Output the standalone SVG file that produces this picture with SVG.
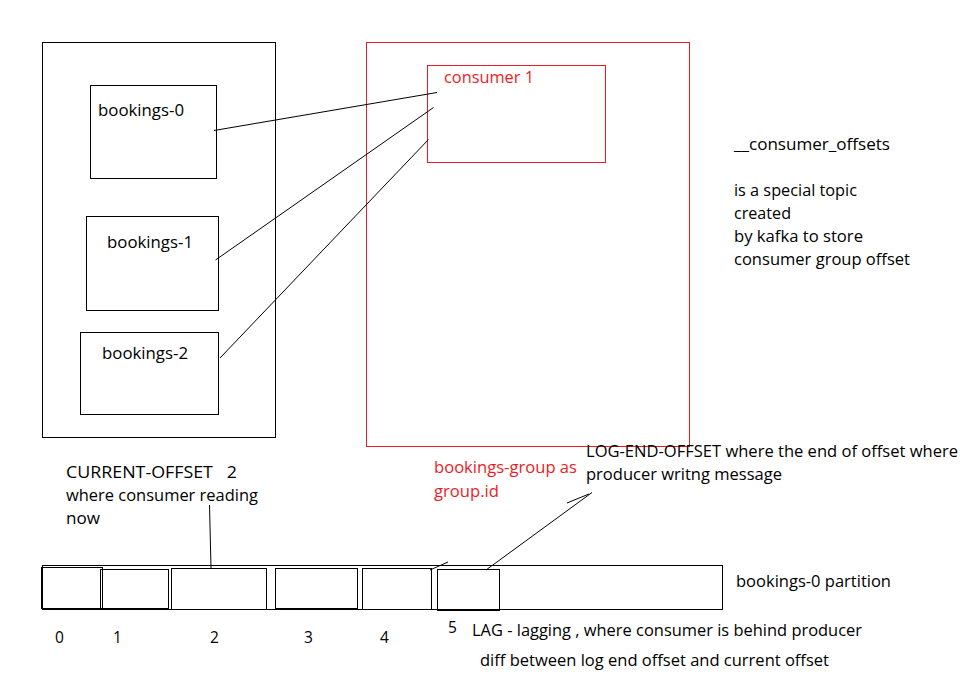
<svg xmlns="http://www.w3.org/2000/svg" width="960" height="686" viewBox="0 0 960 686">
<style>
  text { font-family: "Open Sans", "Liberation Sans", sans-serif; font-size: 15.5px; fill: #000; }
  .red { fill: #ed1c24; }
  .box { fill: none; stroke: #000; stroke-width: 1; }
  .rbox { fill: none; stroke: #ed1c24; stroke-width: 1; }
  .ln { stroke: #000; stroke-width: 1; fill: none; }
</style>
<rect width="960" height="686" fill="#fff"/>
<g id="topic">
  <rect class="box" x="42.5" y="42.5" width="233" height="395"/>
</g>
<g id="bookings-0">
  <rect class="box" x="90.5" y="85.5" width="126" height="93"/>
  <text x="98" y="116" textLength="86" lengthAdjust="spacingAndGlyphs">bookings-0</text>
</g>
<g id="bookings-1">
  <rect class="box" x="86.5" y="216.5" width="132" height="94"/>
  <text x="107" y="248" textLength="86" lengthAdjust="spacingAndGlyphs">bookings-1</text>
</g>
<g id="bookings-2">
  <rect class="box" x="80.5" y="332.5" width="138" height="82"/>
  <text x="102" y="359" textLength="86" lengthAdjust="spacingAndGlyphs">bookings-2</text>
</g>
<g id="consumer-group">
  <rect class="rbox" x="366.5" y="42.5" width="323" height="404"/>
</g>
<g id="consumer-1">
  <rect class="rbox" x="427.5" y="65.5" width="178" height="97"/>
  <text class="red" x="444" y="83" textLength="90" lengthAdjust="spacingAndGlyphs">consumer 1</text>
</g>
<g id="connectors">
  <line class="ln" x1="214" y1="130.5" x2="437" y2="92.5"/>
  <line class="ln" x1="215.5" y1="260" x2="433.5" y2="107.5"/>
  <line class="ln" x1="220" y1="358" x2="428.5" y2="139.5"/>
  <line class="ln" x1="209.5" y1="505" x2="211" y2="568"/>
  <line class="ln" x1="486" y1="570" x2="592" y2="492.5"/>
  <line class="ln" x1="567" y1="503" x2="589" y2="494"/>
  <line class="ln" x1="430" y1="570" x2="448" y2="562"/>
</g>
<g id="notes">
  <text x="734" y="150" textLength="156" lengthAdjust="spacingAndGlyphs">__consumer_offsets</text>
  <text x="734" y="196" textLength="123" lengthAdjust="spacingAndGlyphs">is a special topic</text>
  <text x="734" y="219" textLength="57" lengthAdjust="spacingAndGlyphs">created</text>
  <text x="734" y="242" textLength="129" lengthAdjust="spacingAndGlyphs">by kafka to store</text>
  <text x="734" y="265" textLength="176" lengthAdjust="spacingAndGlyphs">consumer group offset</text>
  <text x="586" y="457" textLength="372" lengthAdjust="spacingAndGlyphs">LOG-END-OFFSET where the end of offset where</text>
  <text x="586" y="480" textLength="196" lengthAdjust="spacingAndGlyphs">producer writng message</text>
  <text class="red" x="434" y="473" textLength="143" lengthAdjust="spacingAndGlyphs">bookings-group as</text>
  <text class="red" x="434" y="497" textLength="65" lengthAdjust="spacingAndGlyphs">group.id</text>
  <text x="66" y="478" xml:space="preserve" textLength="171" lengthAdjust="spacingAndGlyphs">CURRENT-OFFSET   2</text>
  <text x="66" y="501" textLength="192" lengthAdjust="spacingAndGlyphs">where consumer reading</text>
  <text x="66" y="524" textLength="34" lengthAdjust="spacingAndGlyphs">now</text>
</g>
<g id="partition">
  <rect class="box" x="42.5" y="565.5" width="680" height="44"/>
  <rect class="box" x="41.5" y="567.5" width="61" height="41"/>
  <rect class="box" x="100.5" y="569.5" width="68" height="39"/>
  <rect class="box" x="171.5" y="568.5" width="95" height="41"/>
  <rect class="box" x="275.5" y="568.5" width="82" height="40"/>
  <rect class="box" x="362.5" y="568.5" width="69" height="41"/>
  <rect class="box" x="437.5" y="569.5" width="62" height="41"/>
  <text x="736" y="587" textLength="155" lengthAdjust="spacingAndGlyphs">bookings-0 partition</text>
  <text x="55" y="643">0</text>
  <text x="113" y="643">1</text>
  <text x="210" y="643">2</text>
  <text x="304" y="643">3</text>
  <text x="380" y="643">4</text>
  <text x="448" y="633">5</text>
  <text x="472" y="636" textLength="390" lengthAdjust="spacingAndGlyphs">LAG - lagging , where consumer is behind producer</text>
  <text x="480" y="666" textLength="349" lengthAdjust="spacingAndGlyphs">diff between log end offset and current offset</text>
</g>
</svg>
